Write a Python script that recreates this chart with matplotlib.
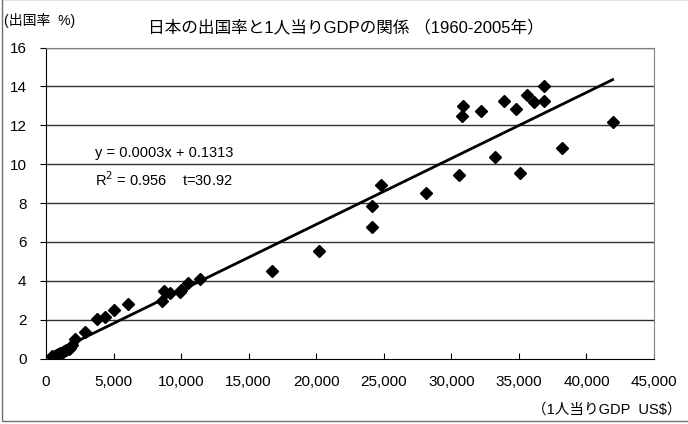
import matplotlib

matplotlib.use("Agg")

import matplotlib.pyplot as plt
from matplotlib.patches import Rectangle
import numpy as np

plt.rcParams["font.family"] = ["Liberation Sans", "Noto Sans CJK JP"]

# 1人当りGDP (US$) and 出国率 (%), 1960-2005
gdp_per_capita = [
    480, 560, 630, 720, 840, 920, 1070, 1230, 1300, 1450, 1670, 1750,
    1960, 2150, 2890, 3750, 4370, 5030, 6090, 8610, 8760, 9180, 9920,
    9990, 10530, 11400, 16750, 20180, 24100, 24100, 24800, 28100, 30570,
    30770, 30890, 32220, 33230, 33870, 34760, 35080, 35620, 36090, 36860,
    36860, 38190, 41940,
]
departure_rate = [
    0.12, 0.10, 0.14, 0.17, 0.20, 0.24, 0.30, 0.36, 0.40, 0.45, 0.50, 0.55,
    0.70, 0.99, 1.38, 2.06, 2.16, 2.50, 2.81, 2.98, 3.49, 3.36, 3.44,
    3.53, 3.90, 4.08, 4.49, 5.55, 7.85, 6.79, 8.93, 8.52, 9.43,
    12.48, 12.98, 12.72, 10.39, 13.27, 12.86, 9.53, 13.58, 13.18, 14.04,
    13.27, 10.85, 12.19,
]

x_ticks = np.arange(0, 45001, 5000)
y_ticks = np.arange(0, 17, 2)

fig = plt.figure(figsize=(6.88, 4.24), dpi=100)
ax = fig.add_axes([46 / 688, 1 - 358.6 / 424, 608 / 688, 311 / 424])

x = np.array(gdp_per_capita, dtype=float)
y = np.array(departure_rate, dtype=float)
slope, intercept = np.polyfit(x, y, 1)
line_x = np.array([x.min(), x.max()])
ax.plot(line_x, slope * line_x + intercept, color="black", lw=2, zorder=3)
ax.plot(x, y, "D", color="black", markersize=6.5, zorder=4)

ax.set_xlim(0, 45000)
ax.set_ylim(0, 16)
ax.set_xticks(x_ticks)
ax.set_yticks(y_ticks)
ax.set_xticklabels([f"{v:,}" for v in x_ticks])
ax.tick_params(axis="x", direction="in", length=4, pad=12, labelsize=11)
ax.tick_params(axis="y", direction="out", length=4, pad=10, labelsize=11)
for v in y_ticks[1:]:
    ax.axhline(v, color="#303030", lw=1, zorder=1)
ax.spines["left"].set_color("black")
ax.spines["bottom"].set_color("black")
ax.spines["top"].set_color("#808080")
ax.spines["right"].set_color("#808080")

ax.text(0.081, 0.66, "y = 0.0003x + 0.1313", transform=ax.transAxes,
        fontsize=10.5, va="center")
ax.text(0.081, 0.575, "R$^2$ = 0.956    t=30.92", transform=ax.transAxes,
        fontsize=10.5, va="center")

fig.text(346 / 688, 1 - 27 / 424, "日本の出国率と1人当りGDPの関係 （1960-2005年）",
         fontsize=12, va="center", ha="center")
fig.text(4 / 688, 1 - 20 / 424, "(出国率  %)", fontsize=10, va="center")
fig.text(682 / 688, 1 - 410 / 424, "（1人当りGDP  US$）", fontsize=10.5,
         va="center", ha="right")
fig.patches.append(Rectangle((2 / 688, 3 / 424), 0.999, 0.995,
                             transform=fig.transFigure, fill=False,
                             edgecolor="#707070", lw=1))

fig.savefig("out.png", dpi=100)
